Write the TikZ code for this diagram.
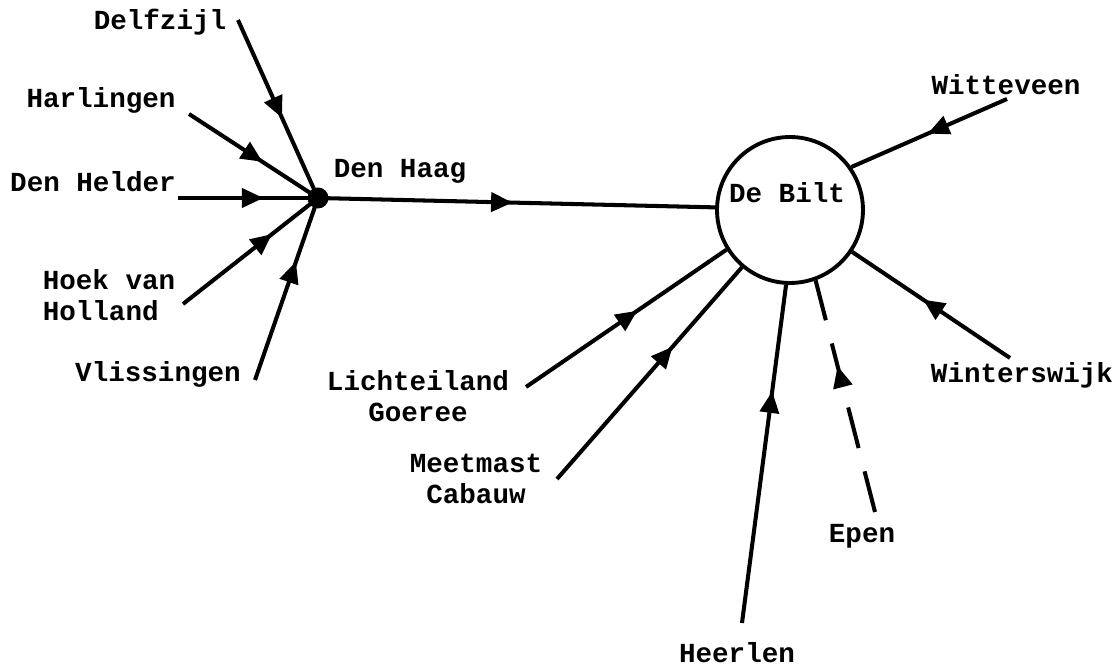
\documentclass[tikz,border=0pt]{standalone}
\usepackage{fontspec}
\newfontfamily\typew{Liberation Mono}
\usetikzlibrary{arrows.meta,decorations.markings}
\tikzset{
  lbl/.style={font={\typew\bfseries\fontsize{15.7pt}{17.6pt}\selectfont}, inner sep=0pt},
  feed/.style={line width=2.3pt, postaction={decorate},
    decoration={markings, mark=at position #1 with {\arrow{Triangle[length=0.43cm,width=0.38cm]}}}},
}
\begin{document}
\begin{tikzpicture}[x=0.02cm,y=-0.02cm]
\useasboundingbox (0,0) rectangle (1120,671);
% hubs
\node[circle, fill=black, inner sep=0pt, minimum size=0.42cm] (hub) at (318,198) {};
\node[circle, draw, line width=2.2pt, inner sep=0pt, minimum size=2.92cm] (bilt) at (790,210) {};
% labels
\node[lbl, anchor=base] (delfzijl) at (160,30) {Delfzijl};
\node[lbl, anchor=base] (harlingen) at (101,108) {Harlingen};
\node[lbl, anchor=base] (denhelder) at (93,192) {Den Helder};
\node[lbl, align=left] (hoek) at (109,295) {Hoek van\\Holland};
\node[lbl, anchor=base] (vlissingen) at (158,382) {Vlissingen};
\node[lbl, anchor=base] (denhaag) at (400,178) {Den Haag};
\node[lbl, anchor=base] (debilt) at (787,203) {De Bilt};
\node[lbl, anchor=base] (witteveen) at (1006,95) {Witteveen};
\node[lbl, anchor=base] (winterswijk) at (1022,383) {Winterswijk};
\node[lbl, align=center] (licht) at (418,396) {Lichteiland\\Goeree};
\node[lbl, align=center] (meet) at (476,479) {Meetmast\\Cabauw};
\node[lbl, anchor=base] (heerlen) at (737,663) {Heerlen};
\node[lbl, anchor=base] (epen) at (862,543) {Epen};
% line starts
\coordinate (delf-s) at (238,20);
\coordinate (harl-s) at (189,114);
\coordinate (held-s) at (178,198);
\coordinate (hoek-s) at (183,304);
\coordinate (vlis-s) at (255,380);
\coordinate (witt-s) at (1007,99);
\coordinate (wint-s) at (1010,358);
\coordinate (licht-s) at (526,387);
\coordinate (meet-s) at (557,479);
\coordinate (heer-s) at (742,623);
\coordinate (epen-s) at (875,512);
% connectors to Den Haag
\draw[feed=0.55] (delf-s) -- (hub.center);
\draw[feed=0.57] (harl-s) -- (hub.center);
\draw[feed=0.61] (held-s) -- (hub.center);
\draw[feed=0.66] (hoek-s) -- (hub.center);
\draw[feed=0.65] (vlis-s) -- (hub.center);
% Den Haag to De Bilt
\draw[feed=0.49] (hub.center) -- (bilt.178);
% connectors to De Bilt
\draw[feed=0.51] (witt-s) -- (bilt.35);
\draw[feed=0.55] (wint-s) -- (bilt.-34);
\draw[feed=0.555] (licht-s) -- (bilt.212);
\draw[feed=0.625] (meet-s) -- (bilt.230);
\draw[feed=0.685] (heer-s) -- (bilt.267);
\draw[feed=0.63, dash pattern=on 0.84cm off 0.48cm] (epen-s) -- (bilt.-70);
\end{tikzpicture}
\end{document}
